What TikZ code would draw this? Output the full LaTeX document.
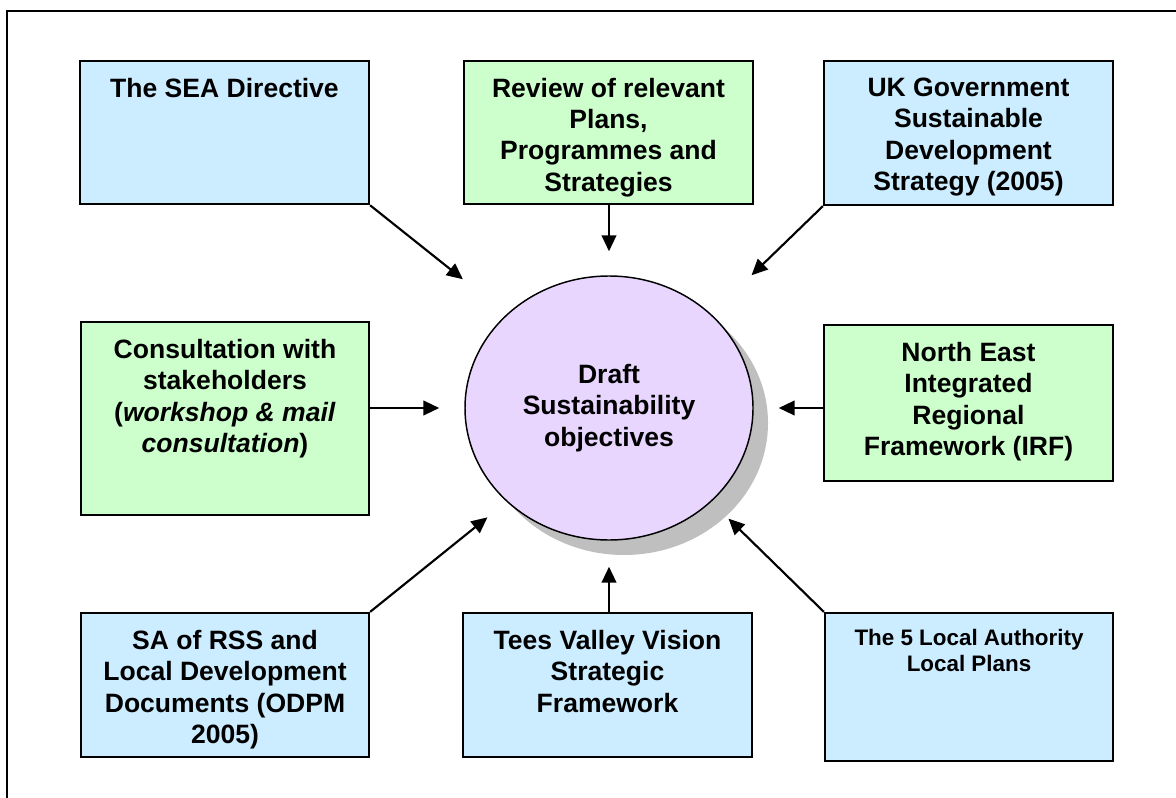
\documentclass[tikz,border=0pt]{standalone}
\usepackage{fontspec}
\setmainfont{Liberation Sans}
\usetikzlibrary{shapes.geometric,shadows,arrows.meta}
\definecolor{srcblue}{RGB}{204,236,255}
\definecolor{srcgreen}{RGB}{204,255,204}
\definecolor{draftlilac}{RGB}{232,214,255}

\begin{document}
\begin{tikzpicture}[x=0.75pt,y=-0.75pt,
    >={Triangle[length=12pt,width=11pt]},
    srcbox/.style={shape=rectangle,draw,line width=1.7pt,minimum width=216.75pt,
                   minimum height=107.5pt,inner sep=0pt},
    boxtext/.style={anchor=north,yshift=-13.5pt,align=center,inner sep=0pt,
                    font=\bfseries\fontsize{19.9}{23.5}\selectfont},
    feed/.style={->,line width=1.6pt}]

      \useasboundingbox (0,0) rectangle (1176,798);
      \draw[line width=1.7pt] (7,798) -- (7,11) -- (1176,11);

      \path node (draft) at (609,408)
            [shape=ellipse,draw,line width=1.1pt,fill=draftlilac,
             minimum width=216pt,minimum height=198pt,inner sep=0pt,align=center,
             font=\bfseries\fontsize{19.9}{23.5}\selectfont,
             drop shadow={shadow xshift=11.25pt,shadow yshift=-11.25pt,
                          fill=black!25,opacity=1}]
            {Draft\\Sustainability\\objectives};

      \path node (sea) at (224.5,132.5) [srcbox,fill=srcblue] {};
      \path node (seatext) at (sea.north) [boxtext] {The SEA Directive};

      \path node (review) at (608.5,132.5) [srcbox,fill=srcgreen] {};
      \path node (reviewtext) at (review.north) [boxtext]
            {Review of relevant\\Plans,\\Programmes and\\Strategies};

      \path node (ukgov) at (968.5,133) [srcbox,fill=srcblue,minimum height=108pt] {};
      \path node (ukgovtext) at (ukgov.north) [boxtext]
            {UK Government\\Sustainable\\Development\\Strategy (2005)};

      \path node (consult) at (225,418.5)
            [srcbox,fill=srcgreen,minimum width=216pt,minimum height=144.75pt] {};
      \path node (consulttext) at (consult.north) [boxtext]
            {Consultation with\\stakeholders\\(\textit{workshop \& mail}\\\textit{consultation})};

      \path node (irf) at (968.5,403) [srcbox,fill=srcgreen,minimum height=117pt] {};
      \path node (irftext) at (irf.north) [boxtext]
            {North East\\Integrated\\Regional\\Framework (IRF)};

      \path node (sarss) at (225,685) [srcbox,fill=srcblue,minimum width=216pt,minimum height=108pt] {};
      \path node (sarsstext) at (sarss.north) [boxtext]
            {SA of RSS and\\Local Development\\Documents (ODPM\\2005)};

      \path node (tees) at (607.5,685) [srcbox,fill=srcblue,minimum height=108pt] {};
      \path node (teestext) at (tees.north) [boxtext]
            {Tees Valley Vision\\Strategic\\Framework};

      \path node (localplans) at (969,687) [srcbox,fill=srcblue,minimum width=216pt,minimum height=111pt] {};
      \path node (localplanstext) at (localplans.north)
            [boxtext,yshift=0.75pt,font=\bfseries\fontsize{16.8}{19.5}\selectfont]
            {The 5 Local Authority\\Local Plans};

      \draw[feed,shorten >=42pt] (sea.south east) -- (draft.north west);
      \draw[feed,shorten >=18pt] (review.south -| draft.north) -- (draft.north);
      \draw[feed,shorten >=42pt] (ukgov.south west) -- (draft.north east);
      \draw[feed,shorten >=18.75pt] (consult.east |- draft.west) -- (draft.west);
      \draw[feed,shorten >=18.75pt] (irf.west |- draft.east) -- (draft.east);
      \draw[feed,shorten >=18.5pt] (sarss.north east) -- (draft.south west);
      \draw[feed,shorten >=19.5pt] (tees.north -| draft.south) -- (draft.south);
      \draw[feed,shorten >=18pt] (localplans.north west) -- (draft.south east);
\end{tikzpicture}
\end{document}
